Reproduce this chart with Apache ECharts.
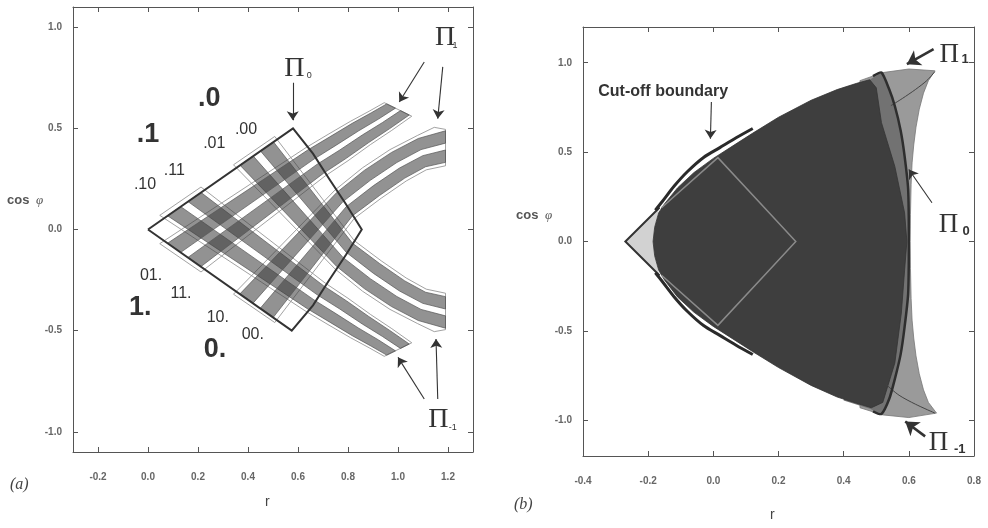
<!DOCTYPE html>
<html><head><meta charset="utf-8">
<script src="https://cdn.jsdelivr.net/npm/echarts@6/dist/echarts.min.js"></script>
<style>html,body{margin:0;padding:0;background:#fff}#c{width:988px;height:528px}</style>
</head><body><div id="c"></div>
<script>
// ---------- tick values ----------
const xTicksA = [-0.2, 0.0, 0.2, 0.4, 0.6, 0.8, 1.0, 1.2];
const yTicksA = [-1.0, -0.5, 0.0, 0.5, 1.0];
const xTicksB = [-0.4, -0.2, 0.0, 0.2, 0.4, 0.6, 0.8];
const yTicksB = [-1.0, -0.5, 0.0, 0.5, 1.0];

// ---------- panel (a): Pi0 boundary ----------
const pi0A = [[0,0],[0.58,0.5],[0.66,0.375],[0.725,0.25],[0.792,0.125],[0.855,0],[0.792,-0.125],[0.725,-0.25],[0.66,-0.375],[0.575,-0.5],[0,0]];

// descending strips (Pi_-1 images)
const bandD10 = [[0.078,0.068],[0.639,-0.393],[0.727,-0.458],[0.817,-0.525],[0.893,-0.577],[0.955,-0.621],[0.990,-0.600],[0.922,-0.546],[0.843,-0.488],[0.753,-0.417],[0.664,-0.348],[0.131,0.113]];
const bandD11 = [[0.160,0.138],[0.677,-0.323],[0.767,-0.393],[0.857,-0.467],[0.938,-0.529],[1.010,-0.588],[1.045,-0.566],[0.967,-0.499],[0.883,-0.430],[0.793,-0.352],[0.702,-0.278],[0.212,0.183]];
const bandD01 = [[0.368,0.318],[0.755,-0.183],[0.865,-0.292],[0.974,-0.381],[1.081,-0.450],[1.19,-0.488],[1.19,-0.427],[1.092,-0.395],[0.995,-0.331],[0.889,-0.243],[0.780,-0.138],[0.421,0.363]];
const bandD00 = [[0.450,0.388],[0.793,-0.113],[0.902,-0.217],[1.006,-0.304],[1.099,-0.365],[1.19,-0.393],[1.19,-0.332],[1.110,-0.310],[1.027,-0.254],[0.926,-0.168],[0.818,-0.068],[0.502,0.433]];
const armD1 = [[0.047,0.070],[0.632,-0.405],[0.72,-0.47],[0.81,-0.535],[0.885,-0.585],[0.945,-0.627],[1.055,-0.56],[0.975,-0.49],[0.89,-0.42],[0.80,-0.34],[0.709,-0.265],[0.212,0.210]];
const armD0 = [[0.342,0.320],[0.748,-0.195],[0.858,-0.305],[0.968,-0.395],[1.078,-0.465],[1.145,-0.505],[1.19,-0.495],[1.19,-0.315],[1.113,-0.295],[1.033,-0.24],[0.933,-0.155],[0.825,-0.055],[0.507,0.460]];

// ascending strips (Pi_1 images)
const bandA01 = [[0.078,-0.068],[0.639,0.393],[0.727,0.458],[0.817,0.525],[0.893,0.577],[0.955,0.621],[0.990,0.600],[0.922,0.546],[0.843,0.488],[0.753,0.417],[0.664,0.348],[0.131,-0.113]];
const bandA11 = [[0.160,-0.138],[0.677,0.323],[0.767,0.393],[0.857,0.467],[0.938,0.529],[1.010,0.588],[1.045,0.566],[0.967,0.499],[0.883,0.430],[0.793,0.352],[0.702,0.278],[0.212,-0.183]];
const bandA10 = [[0.368,-0.318],[0.755,0.183],[0.865,0.292],[0.974,0.381],[1.081,0.450],[1.19,0.488],[1.19,0.427],[1.092,0.395],[0.995,0.331],[0.889,0.243],[0.780,0.138],[0.421,-0.363]];
const bandA00 = [[0.450,-0.388],[0.793,0.113],[0.902,0.217],[1.006,0.304],[1.099,0.365],[1.19,0.393],[1.19,0.332],[1.110,0.310],[1.027,0.254],[0.926,0.168],[0.818,0.068],[0.502,-0.433]];
const armA1 = [[0.047,-0.070],[0.632,0.405],[0.72,0.47],[0.81,0.535],[0.885,0.585],[0.945,0.627],[1.055,0.56],[0.975,0.49],[0.89,0.42],[0.80,0.34],[0.709,0.265],[0.212,-0.210]];
const armA0 = [[0.342,-0.320],[0.748,0.195],[0.858,0.305],[0.968,0.395],[1.078,0.465],[1.145,0.505],[1.19,0.495],[1.19,0.315],[1.113,0.295],[1.033,0.24],[0.933,0.155],[0.825,0.055],[0.507,-0.460]];

// symbolic labels in (a)
const bigLabelsA = [['.0',0.245,0.647],['.1',0.0,0.47],['1.',-0.031,-0.388],['0.',0.268,-0.594]];
const smallLabelsA = [['.00',0.392,0.495],['.01',0.265,0.424],['.11',0.105,0.289],['.10',-0.012,0.223],['01.',0.012,-0.228],['11.',0.132,-0.318],['10.',0.279,-0.437],['00.',0.419,-0.52]];
const piLabelsA = [['Π',0.585,0.795],['Π',1.188,0.949],['Π',1.161,-0.941]];
const piSubsA = [['0',0.645,0.762],['1',1.228,0.911],['-1',1.219,-0.979]];
const arrowsA = [[0.579,0.725,0.579,0.54],[1.105,0.828,1.005,0.63],[1.179,0.804,1.159,0.548],[1.105,-0.838,1.0,-0.632],[1.159,-0.838,1.152,-0.541]];

// ---------- panel (b) ----------
const lightTriB = [[-0.27,0.0],[-0.165,0.19],[-0.17,0.16],[-0.18,0.08],[-0.185,0.0],[-0.18,-0.08],[-0.17,-0.16],[-0.165,-0.19]];
const outerB = [[0.45,0.90],[0.52,0.945],[0.60,0.965],[0.68,0.955],[0.66,0.90],[0.645,0.83],[0.632,0.74],[0.622,0.64],[0.615,0.54],[0.61,0.44],[0.607,0.32],[0.605,0.15],[0.604,0.0],[0.605,-0.15],[0.607,-0.32],[0.61,-0.44],[0.615,-0.54],[0.622,-0.64],[0.632,-0.74],[0.645,-0.83],[0.66,-0.90],[0.685,-0.96],[0.60,-0.985],[0.52,-0.97],[0.45,-0.93],[0.45,0]];
const midB = [[0.40,0.86],[0.48,0.905],[0.516,0.945],[0.54,0.85],[0.557,0.758],[0.575,0.62],[0.587,0.478],[0.598,0.29],[0.60,0.0],[0.598,-0.29],[0.587,-0.478],[0.575,-0.63],[0.557,-0.77],[0.54,-0.88],[0.516,-0.965],[0.48,-0.935],[0.40,-0.89],[0.40,0]];
const darkB = [[-0.185,0],[-0.18,0.08],[-0.168,0.16],[-0.15,0.21],[-0.11,0.30],[-0.06,0.385],[0.0,0.465],[0.06,0.535],[0.12,0.605],[0.2,0.695],[0.3,0.79],[0.38,0.85],[0.44,0.885],[0.48,0.905],[0.50,0.86],[0.516,0.665],[0.557,0.42],[0.587,0.16],[0.594,0.0],[0.587,-0.16],[0.577,-0.40],[0.557,-0.68],[0.52,-0.90],[0.485,-0.93],[0.44,-0.905],[0.38,-0.87],[0.3,-0.805],[0.2,-0.705],[0.12,-0.615],[0.06,-0.545],[0.0,-0.475],[-0.06,-0.395],[-0.11,-0.31],[-0.15,-0.215],[-0.168,-0.16],[-0.18,-0.08]];
const pi0RightB = [[0.49,0.925],[0.516,0.945],[0.54,0.85],[0.557,0.758],[0.575,0.62],[0.587,0.478],[0.598,0.29],[0.60,0.0],[0.598,-0.29],[0.587,-0.478],[0.575,-0.63],[0.557,-0.77],[0.54,-0.88],[0.516,-0.965],[0.49,-0.95]];
const pi0LeftB = [[-0.165,0.19],[-0.27,0.0],[-0.165,-0.19]];
const thinUpB = [[0.545,0.76],[0.58,0.80],[0.62,0.85],[0.655,0.90],[0.68,0.95]];
const thinDnB = [[0.53,-0.80],[0.57,-0.86],[0.62,-0.91],[0.68,-0.96]];
const innerB = [[-0.159,0.189],[0.014,0.469],[0.172,0.16],[0.253,0.0],[0.172,-0.16],[0.014,-0.469],[-0.159,-0.189]];
const cutUpB = [[-0.178,0.175],[-0.156,0.225],[-0.12,0.31],[-0.08,0.39],[-0.03,0.47],[0.02,0.525],[0.07,0.58],[0.121,0.632]];
const cutDnB = [[-0.178,-0.175],[-0.156,-0.225],[-0.12,-0.31],[-0.08,-0.39],[-0.03,-0.47],[0.02,-0.525],[0.07,-0.58],[0.121,-0.632]];
const textB = [['Cut-off boundary',-0.154,0.84]];
const piLabelsB = [['Π',0.724,1.044],['Π',0.722,0.095],['Π',0.691,-1.124]];
const piSubsB = [['1',0.773,1.02],['0',0.776,0.056],['-1',0.756,-1.165]];
const arrowsBThin = [[-0.006,0.78,-0.009,0.575],[0.671,0.217,0.6,0.403]];
const arrowsBThick = [[0.676,1.076,0.594,0.992],[0.65,-1.09,0.589,-1.007]];

// ---------- helpers ----------
function polySeries(gi, poly, style, z, closed, smooth) {
  return {type:'custom', xAxisIndex:gi, yAxisIndex:gi, z:z||2, silent:true, clip:true,
    data:[poly[0]],
    renderItem:function(params, api){
      return {type: closed===false ? 'polyline' : 'polygon',
        shape:{points: poly.map(function(p){return api.coord(p);}), smooth: smooth||0},
        style: Object.assign({}, style)};
    }};
}
function textSeries(gi, arr, font, color, z) {
  return {type:'custom', xAxisIndex:gi, yAxisIndex:gi, z:z||20, silent:true, clip:false,
    data: arr.map(function(d){return [d[1], d[2]];}),
    renderItem:function(params, api){
      const d = arr[params.dataIndex];
      const p = api.coord([d[1], d[2]]);
      return {type:'text', x:p[0], y:p[1], style:{text:d[0], font:font, fill:color, align:'center', verticalAlign:'middle'}};
    }};
}
function arrowSeries(gi, arr, width, size) {
  return {type:'lines', coordinateSystem:'cartesian2d', xAxisIndex:gi, yAxisIndex:gi, z:15, silent:true,
    symbol:['none','arrow'], symbolSize:size,
    lineStyle:{color:'#333', width:width, opacity:1, curveness:0},
    data: arr.map(function(a){return {coords:[[a[0],a[1]],[a[2],a[3]]]};})};
}

const bandStyle = {fill:'rgba(60,60,60,0.56)', stroke:'#555', lineWidth:0.7};
const armStyle = {fill:'none', stroke:'#8a8a8a', lineWidth:0.8};

const series = [];
[armD1, armD0, armA1, armA0].forEach(function(p){ series.push(polySeries(0, p, armStyle, 3)); });
[bandD10, bandD11, bandD01, bandD00, bandA01, bandA11, bandA10, bandA00].forEach(function(p){ series.push(polySeries(0, p, bandStyle, 4)); });
series.push(polySeries(0, pi0A, {stroke:'#333', lineWidth:2, fill:'none'}, 6, false));
series.push(textSeries(0, bigLabelsA, 'bold 27px "Liberation Sans", Arial, sans-serif', '#333'));
series.push(textSeries(0, smallLabelsA, '16px "Liberation Sans", Arial, sans-serif', '#333'));
series.push(textSeries(0, piLabelsA, '28px "Liberation Serif", "DejaVu Serif", serif', '#333'));
series.push(textSeries(0, piSubsA, '9px "Liberation Sans", Arial, sans-serif', '#333'));
series.push(arrowSeries(0, arrowsA, 1.1, [0, 9]));

series.push(polySeries(1, outerB, {fill:'#9a9a9a', stroke:'#777', lineWidth:0.8}, 2));
series.push(polySeries(1, midB, {fill:'#727272', stroke:'none'}, 3));
series.push(polySeries(1, lightTriB, {fill:'#d2d2d2', stroke:'none'}, 3));
series.push(polySeries(1, darkB, {fill:'#3e3e3e', stroke:'#333', lineWidth:0.8}, 4));
series.push(polySeries(1, innerB, {fill:'none', stroke:'#8a8a8a', lineWidth:1.5}, 5, false));
series.push(polySeries(1, thinUpB, {fill:'none', stroke:'#444', lineWidth:1}, 5, false, 0.3));
series.push(polySeries(1, thinDnB, {fill:'none', stroke:'#444', lineWidth:1}, 5, false, 0.3));
series.push(polySeries(1, pi0RightB, {fill:'none', stroke:'#2e2e2e', lineWidth:2.5}, 6, false, 0.2));
series.push(polySeries(1, pi0LeftB, {fill:'none', stroke:'#333', lineWidth:2}, 6, false));
series.push(polySeries(1, cutUpB, {fill:'none', stroke:'#2a2a2a', lineWidth:3}, 7, false, 0.3));
series.push(polySeries(1, cutDnB, {fill:'none', stroke:'#2a2a2a', lineWidth:3}, 7, false, 0.3));
series.push(textSeries(1, textB, 'bold 16px "Liberation Sans", Arial, sans-serif', '#333'));
series.push(textSeries(1, piLabelsB, '27px "Liberation Serif", "DejaVu Serif", serif', '#333'));
series.push(textSeries(1, piSubsB, 'bold 13px "Liberation Sans", Arial, sans-serif', '#333'));
series.push(arrowSeries(1, arrowsBThin, 1.1, [0, 9]));
series.push(arrowSeries(1, arrowsBThick, 2.6, [0, 13]));

function xAx(gi, min, max, ticks, pos, showLabel) {
  return {type:'value', gridIndex:gi, min:min, max:max, position:pos,
    axisLine:{show:true, onZero:false, lineStyle:{color:'#555', width:1}},
    axisTick:{show:true, inside:true, length:5, customValues:ticks, lineStyle:{color:'#555'}},
    axisLabel:{show:showLabel, customValues:ticks, margin:20, formatter:function(v){return v.toFixed(1);},
      color:'#666', fontSize:10, fontWeight:'bold', fontFamily:'"Liberation Sans", Arial, sans-serif'},
    splitLine:{show:false}};
}
function yAx(gi, min, max, ticks, pos, showLabel) {
  return {type:'value', gridIndex:gi, min:min, max:max, position:pos,
    axisLine:{show:true, onZero:false, lineStyle:{color:'#555', width:1}},
    axisTick:{show:true, inside:true, length:5, customValues:ticks, lineStyle:{color:'#555'}},
    axisLabel:{show:showLabel, customValues:ticks, margin:11, formatter:function(v){return v.toFixed(1);},
      color:'#666', fontSize:10, fontWeight:'bold', fontFamily:'"Liberation Sans", Arial, sans-serif'},
    splitLine:{show:false}};
}

const chart = echarts.init(document.getElementById('c'));
chart.setOption({
  animation:false,
  backgroundColor:'#fff',
  grid:[{left:73, top:7, width:400, height:445}, {left:583, top:27, width:391, height:429}],
  xAxis:[xAx(0,-0.3,1.3,xTicksA,'bottom',true), xAx(1,-0.4,0.8,xTicksB,'bottom',true),
         xAx(0,-0.3,1.3,xTicksA,'top',false), xAx(1,-0.4,0.8,xTicksB,'top',false)],
  yAxis:[yAx(0,-1.1,1.1,yTicksA,'left',true), yAx(1,-1.2,1.2,yTicksB,'left',true),
         yAx(0,-1.1,1.1,yTicksA,'right',false), yAx(1,-1.2,1.2,yTicksB,'right',false)],
  graphic:[
    {type:'text', left:7, top:194, style:{text:'{a|cos}  {b|φ}', rich:{a:{font:'bold 13px "Liberation Sans", Arial', fill:'#555'}, b:{font:'italic 13px "Liberation Serif", serif', fill:'#555'}}}},
    {type:'text', left:516, top:209, style:{text:'{a|cos}  {b|φ}', rich:{a:{font:'bold 13px "Liberation Sans", Arial', fill:'#555'}, b:{font:'italic 13px "Liberation Serif", serif', fill:'#555'}}}},
    {type:'text', left:10, top:477, style:{text:'(a)', font:'italic 16px "Liberation Serif", serif', fill:'#444'}},
    {type:'text', left:514, top:497, style:{text:'(b)', font:'italic 16px "Liberation Serif", serif', fill:'#444'}},
    {type:'text', left:265, top:495, style:{text:'r', font:'14px "Liberation Sans", Arial', fill:'#444'}},
    {type:'text', left:770, top:508, style:{text:'r', font:'14px "Liberation Sans", Arial', fill:'#444'}}
  ],
  series:series
});
</script></body></html>
